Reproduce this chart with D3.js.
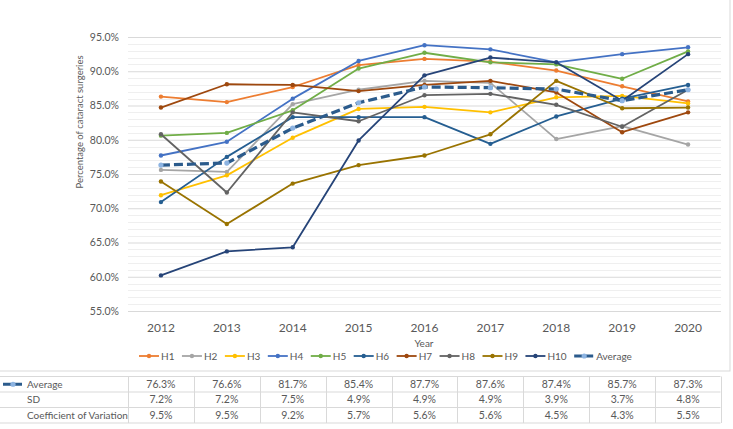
<!DOCTYPE html>
<html><head><meta charset="utf-8">
<script src="https://cdn.jsdelivr.net/npm/d3@7"></script>
<style>
html,body{margin:0;padding:0;background:#fff;}
svg{display:block;font-family:Lato, "Open Sans", sans-serif;}
</style></head>
<body>
<svg id="chart" width="733" height="429"></svg>
<script>
const years = ["2012","2013","2014","2015","2016","2017","2018","2019","2020"];
const seriesNames = ["H1","H2","H3","H4","H5","H6","H7","H8","H9","H10"];
const seriesColors = ["#ED7D31","#A5A5A5","#FFC000","#4472C4","#70AD47","#255E91","#9E480E","#636363","#997300","#264478"];
const H1  = [86.3, 85.5, 87.7, 90.9, 91.8, 91.4, 90.1, 87.8, 85.6];
const H2  = [75.6, 75.3, 85.2, 87.3, 88.6, 88.3, 80.1, 82.0, 79.3];
const H3  = [71.9, 74.8, 80.3, 84.5, 84.8, 84.0, 86.2, 86.4, 85.3];
const H4  = [77.7, 79.7, 86.0, 91.5, 93.8, 93.2, 91.3, 92.5, 93.5];
const H5  = [80.6, 81.0, 84.3, 90.4, 92.7, 91.3, 91.0, 88.9, 92.9];
const H6  = [70.9, 77.5, 83.3, 83.3, 83.3, 79.4, 83.4, 86.0, 88.0];
const H7  = [84.7, 88.1, 88.0, 87.1, 88.0, 88.6, 86.9, 81.1, 84.0];
const H8  = [80.8, 72.3, 84.0, 82.7, 86.5, 86.7, 85.1, 81.9, 87.3];
const H9  = [73.9, 67.7, 73.6, 76.3, 77.7, 80.8, 88.6, 84.6, 84.7];
const H10 = [60.2, 63.7, 64.3, 79.9, 89.4, 92.0, 91.3, 85.7, 92.5];
const average = [76.3, 76.6, 81.7, 85.4, 87.7, 87.6, 87.4, 85.7, 87.3];
const sd = [7.2, 7.2, 7.5, 4.9, 4.9, 4.9, 3.9, 3.7, 4.8];
const cv = [9.5, 9.5, 9.2, 5.7, 5.6, 5.6, 4.5, 4.3, 5.5];
const yTicks = [55, 60, 65, 70, 75, 80, 85, 90, 95];
const yTitle = "Percentage of cataract surgeries";
const xTitle = "Year";
const avgName = "Average";
const tableRows = [["Average", average], ["SD", sd], ["Coefficient of Variation", cv]];

const seriesValues = [H1,H2,H3,H4,H5,H6,H7,H8,H9,H10];
const series = seriesNames.map((n,i)=>({name:n, color:seriesColors[i], values:seriesValues[i]}));

const svg = d3.select("#chart");
const textCol = "#595959";
const avgColor = "#2B5B8C";
const avgMarker = "#8DB4E2";

// chart frame
svg.append("rect").attr("x",-1).attr("y",-1).attr("width",731).attr("height",372)
  .attr("fill","none").attr("stroke","#D9D9D9").attr("stroke-width",1);

const x = d3.scaleBand().domain(years).range([128, 721]);
const y = d3.scaleLinear().domain([55, 95]).range([311, 37]);
const cx = d => x(d) + x.bandwidth()/2;

// minor gridlines
const minor = d3.range(55, 96, 1).filter(v => v % 5 !== 0);
svg.append("g").selectAll("line").data(minor).join("line")
  .attr("x1",128).attr("x2",721).attr("y1",d=>Math.round(y(d))+0.5).attr("y2",d=>Math.round(y(d))+0.5)
  .attr("stroke","#EFEFEF").attr("stroke-width",1);

// y axis with major gridlines
const yAxis = d3.axisLeft(y).tickValues(yTicks).tickFormat(d => d.toFixed(1) + "%").tickSize(-(721-128)).tickPadding(9);
const gy = svg.append("g").attr("transform","translate(128,0)").call(yAxis);
gy.select(".domain").remove();
gy.selectAll(".tick line").attr("stroke","#D9D9D9");
gy.selectAll(".tick text").attr("fill",textCol).style("font-size","10.5px").style("font-family","Lato");

// x axis
const xAxis = d3.axisBottom(x).tickSize(0).tickPadding(12);
const gx = svg.append("g").attr("transform","translate(0,311)").call(xAxis);
gx.select(".domain").remove();
gx.selectAll(".tick text").attr("fill",textCol).style("font-size","12px").style("font-family","Lato");

// axis titles
svg.append("text").attr("transform","translate(83,122) rotate(-90)").attr("text-anchor","middle")
  .attr("fill",textCol).style("font-size","9.5px").text(yTitle);
svg.append("text").attr("x",424).attr("y",347).attr("text-anchor","middle")
  .attr("fill",textCol).style("font-size","10px").text(xTitle);

// series lines
const line = d3.line().x((d,i)=>cx(years[i])).y(d=>y(d));
const gS = svg.append("g");
series.forEach(s => {
  gS.append("path").datum(s.values).attr("d",line).attr("fill","none")
    .attr("stroke",s.color).attr("stroke-width",1.8).attr("stroke-linejoin","round");
  gS.selectAll(null).data(s.values).join("circle")
    .attr("cx",(d,i)=>cx(years[i])).attr("cy",d=>y(d)).attr("r",2.2).attr("fill",s.color);
});
// average
gS.append("path").datum(average).attr("d",line).attr("fill","none")
  .attr("stroke",avgColor).attr("stroke-width",3.2).attr("stroke-dasharray","9,4");
gS.selectAll(null).data(average).join("circle")
  .attr("cx",(d,i)=>cx(years[i])).attr("cy",d=>y(d)).attr("r",2.6).attr("fill",avgMarker);

// legend
const legendY = 356;
const lg = svg.append("g");
const items = series.map(s=>({name:s.name,color:s.color,avg:false})).concat([{name:avgName,avg:true}]);
let lx = 139;
items.forEach(it => {
  const g = lg.append("g").attr("transform",`translate(${lx},${legendY})`);
  if (it.avg) {
    g.append("line").attr("x1",0).attr("x2",20).attr("y1",0).attr("y2",0)
      .attr("stroke",avgColor).attr("stroke-width",3.2).attr("stroke-dasharray","8,3");
    g.append("circle").attr("cx",10).attr("cy",0).attr("r",2.6).attr("fill",avgMarker);
  } else {
    g.append("line").attr("x1",0).attr("x2",20).attr("y1",0).attr("y2",0)
      .attr("stroke",it.color).attr("stroke-width",1.8);
    g.append("circle").attr("cx",10).attr("cy",0).attr("r",2.2).attr("fill",it.color);
  }
  const t = g.append("text").attr("x",22).attr("y",3.5).attr("fill",textCol)
    .style("font-size","10px").text(it.name);
  lx += 22 + t.node().getComputedTextLength() + 7.5;
});

// table
const tTop = 376.5, rowH = 15.5;
const tg = svg.append("g");
const tableLeft = 0, tableRight = 720.5;
d3.range(0, tableRows.length+1).forEach(i => {
  tg.append("line").attr("x1",tableLeft).attr("x2",tableRight)
    .attr("y1",tTop + i*rowH).attr("y2",tTop + i*rowH).attr("stroke","#D9D9D9");
});
const vxs = [128].concat(years.map(yr => x(yr) + x.bandwidth()));
vxs.forEach(v => {
  tg.append("line").attr("x1",Math.round(v)+0.5).attr("x2",Math.round(v)+0.5)
    .attr("y1",tTop).attr("y2",tTop + tableRows.length*rowH).attr("stroke","#D9D9D9");
});
tableRows.forEach((r,i) => {
  const ry = tTop + i*rowH + rowH/2 + 3.5;
  tg.append("text").attr("x",27).attr("y",ry).attr("fill",textCol).style("font-size","10px").text(r[0]);
  tg.selectAll(null).data(r[1]).join("text")
    .attr("x",(d,j)=>cx(years[j])).attr("y",ry).attr("text-anchor","middle")
    .attr("fill",textCol).style("font-size","10.5px").text(d => d.toFixed(1) + "%");
});
const ky = tTop + rowH/2;
tg.append("line").attr("x1",3).attr("x2",23).attr("y1",ky).attr("y2",ky)
  .attr("stroke",avgColor).attr("stroke-width",3.2).attr("stroke-dasharray","8,3");
tg.append("circle").attr("cx",13).attr("cy",ky).attr("r",2.6).attr("fill",avgMarker);
</script>
</body></html>
